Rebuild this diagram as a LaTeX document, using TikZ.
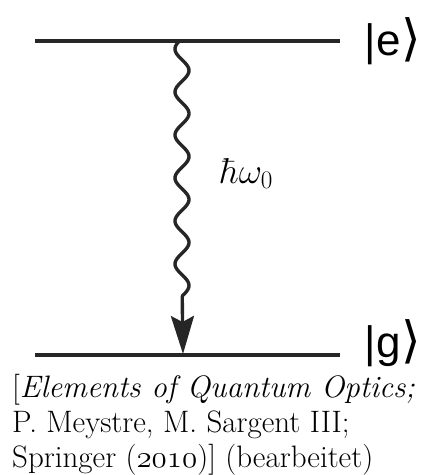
\RequirePackage{fix-cm}
\documentclass[tikz,border=0pt]{standalone}
\usepackage{fontspec}
\newfontfamily\ketfont{Liberation Sans}
\newfontfamily\brfont{DejaVu Sans}
\usetikzlibrary{arrows.meta}
\begin{document}
\begin{tikzpicture}[x=1pt,y=1pt,
  level/.style={line width=4.5pt, draw=black!85},
  wave/.style={line width=3.4pt, draw=black!85, line cap=round},
  ket/.style={anchor=base west, inner sep=0pt, font=\ketfont\fontsize{44}{44}\selectfont},
  captext/.style={anchor=base west, inner sep=0pt, font=\fontsize{31}{35}\selectfont},
]
\useasboundingbox (0,0) rectangle (423,-475);
\coordinate (e1) at (35,-41);
\coordinate (e2) at (340,-41);
\coordinate (g1) at (35,-355);
\coordinate (g2) at (340,-355);
\draw[level] (e1) -- (e2);
\draw[level] (g1) -- (g2);
\node[ket] (ke) at (364,-55) {|\kern1pt e{\brfont\fontsize{50}{50}\selectfont ⟩}};
\node[ket] (kg) at (364,-357) {|\kern1pt g{\brfont\fontsize{50}{50}\selectfont ⟩}};
\coordinate (wstart) at (180,-41);
\coordinate (wend) at (182.2,-296);
\coordinate (tip) at (183,-354);
\draw[wave] plot[domain=41:296, samples=200, smooth] ({182-7*cos((\x-49)*8.3721)},{-\x});
\draw[wave, -{Stealth[length=38pt,width=23pt,inset=6pt]}] (wend) -- (tip);
\node[anchor=base west, inner sep=0pt, font=\fontsize{36}{36}\selectfont] (lab) at (220,-183) {$\hbar\omega_0$};
\node[captext] (c1) at (12,-397) {[\textit{Elements of Quantum Optics;}};
\node[captext] (c2) at (12,-432) {P. Meystre, M. Sargent III;};
\node[captext] (c3) at (12,-467) {Springer ($\mathnormal{2010}$)] (bearbeitet)};
\end{tikzpicture}
\end{document}
